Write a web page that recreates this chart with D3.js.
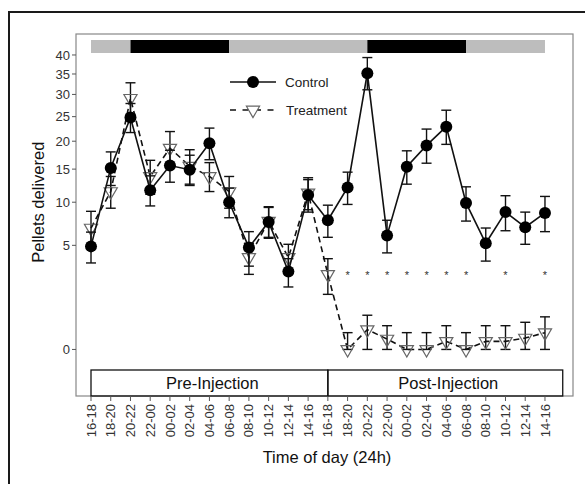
<!DOCTYPE html>
<html>
<head>
<meta charset="utf-8">
<script src="https://cdn.jsdelivr.net/npm/d3@7"></script>
<style>
  body { margin: 0; background: #fff; }
  text { font-family: 'Liberation Sans', Arial, sans-serif; }
</style>
</head>
<body>
<div id="chart"></div>
<script>
const times = ['16-18', '18-20', '20-22', '22-00', '00-02', '02-04', '04-06', '06-08', '08-10', '10-12', '12-14', '14-16',
  '16-18', '18-20', '20-22', '22-00', '00-02', '02-04', '04-06', '06-08', '08-10', '10-12', '12-14', '14-16']

const controlMean = [4.9, 15.2, 24.8, 11.7, 15.6, 14.9, 19.6, 10.0, 4.8, 7.5, 2.8, 11.0,
  7.7, 12.1, 35.2, 6.0, 15.4, 19.2, 22.9, 9.9, 5.2, 8.7, 6.9, 8.6]
const controlSem = [1.45, 2.8, 3.1, 2.2, 2.7, 2.5, 3.0, 2.0, 1.6, 1.8, 1.0, 2.3,
  1.9, 2.4, 4.1, 1.7, 2.8, 3.2, 3.5, 2.3, 1.6, 2.2, 1.8, 2.2]

const treatMean = [6.8, 11.5, 29.1, 13.8, 18.7, 15.5, 13.8, 11.5, 3.9, 7.6, 3.9, 11.3,
  2.6, 0, 0.18, 0.05, 0, 0, 0.03, 0, 0.03, 0.03, 0.06, 0.13]
const treatSem = [2.0, 2.3, 3.7, 2.7, 3.2, 2.9, 2.3, 2.3, 1.3, 1.8, 1.2, 2.3,
  1.2, 0.13, 0.36, 0.21, 0.13, 0.13, 0.23, 0.13, 0.23, 0.23, 0.28, 0.36]

// significant differences (index of time bin)
const starIdx = [13, 14, 15, 16, 17, 18, 19, 21, 23]

// light / dark phases, in time-bin index units
const phases = [
  { from: 0, to: 2, dark: false },
  { from: 2, to: 7, dark: true },
  { from: 7, to: 14, dark: false },
  { from: 14, to: 19, dark: true },
  { from: 19, to: 23, dark: false }
]
const periods = [
  { from: 0, to: 12, label: 'Pre-Injection' },
  { from: 12, to: 23.9, label: 'Post-Injection' }
]

const yTicks = [0, 5, 10, 15, 20, 25, 30, 35, 40]

const W = 585
const H = 484
const panel = { left: 76, right: 573, top: 34, bottom: 396 }

const svg = d3
  .select('#chart')
  .append('svg')
  .attr('width', W)
  .attr('height', H)

// outer figure frame
svg
  .append('rect')
  .attr('x', 9)
  .attr('y', 12)
  .attr('width', 600)
  .attr('height', 500)
  .attr('fill', 'none')
  .attr('stroke', '#1a1a1a')
  .attr('stroke-width', 2)

const x = d3.scaleLinear().domain([-0.76, 24.42]).range([panel.left, panel.right])
const y = d3.scaleSqrt().domain([-1, 45.9]).range([panel.bottom, panel.top])

// panel border
svg
  .append('rect')
  .attr('x', panel.left)
  .attr('y', panel.top)
  .attr('width', panel.right - panel.left)
  .attr('height', panel.bottom - panel.top)
  .attr('fill', 'none')
  .attr('stroke', '#888')
  .attr('stroke-width', 1.2)

// light/dark bar
svg
  .selectAll('.phase')
  .data(phases)
  .enter()
  .append('rect')
  .attr('class', 'phase')
  .attr('x', d => x(d.from))
  .attr('width', d => x(d.to) - x(d.from))
  .attr('y', 40)
  .attr('height', 13)
  .attr('fill', d => (d.dark ? '#000' : '#bdbdbd'))

// pre / post boxes
const pg = svg.selectAll('.period').data(periods).enter().append('g')
pg.append('rect')
  .attr('x', d => x(d.from))
  .attr('width', d => x(d.to) - x(d.from))
  .attr('y', 370)
  .attr('height', 26)
  .attr('fill', 'none')
  .attr('stroke', '#111')
  .attr('stroke-width', 1.3)
pg.append('text')
  .attr('x', d => (x(d.from) + x(d.to)) / 2 + 3)
  .attr('y', 389)
  .attr('text-anchor', 'middle')
  .style('font-size', '16.5px')
  .attr('fill', '#111')
  .text(d => d.label)

// y axis
const yAxis = svg.append('g')
yAxis
  .selectAll('line')
  .data(yTicks)
  .enter()
  .append('line')
  .attr('x1', panel.left - 4)
  .attr('x2', panel.left)
  .attr('y1', d => y(d))
  .attr('y2', d => y(d))
  .attr('stroke', '#555')
yAxis
  .selectAll('text')
  .data(yTicks)
  .enter()
  .append('text')
  .attr('x', panel.left - 6)
  .attr('y', d => y(d))
  .attr('dy', '0.35em')
  .attr('text-anchor', 'end')
  .style('font-size', '13px')
  .attr('fill', '#333')
  .text(d => d)

svg
  .append('text')
  .attr('transform', 'translate(44,' + (y(0) + y(40)) / 2 + ') rotate(-90)')
  .attr('text-anchor', 'middle')
  .style('font-size', '16.5px')
  .attr('fill', '#111')
  .text('Pellets delivered')

// x axis
const xAxis = svg.append('g')
xAxis
  .selectAll('line')
  .data(times)
  .enter()
  .append('line')
  .attr('x1', (d, i) => x(i))
  .attr('x2', (d, i) => x(i))
  .attr('y1', panel.bottom)
  .attr('y2', panel.bottom + 5)
  .attr('stroke', '#555')
xAxis
  .selectAll('text')
  .data(times)
  .enter()
  .append('text')
  .attr('transform', (d, i) => 'translate(' + x(i) + ',' + (panel.bottom + 8) + ') rotate(-90)')
  .attr('text-anchor', 'end')
  .attr('dy', '0.35em')
  .style('font-size', '13px')
  .attr('fill', '#333')
  .text(d => d)

svg
  .append('text')
  .attr('x', 327)
  .attr('y', 463)
  .attr('text-anchor', 'middle')
  .style('font-size', '16.5px')
  .attr('fill', '#111')
  .text('Time of day (24h)')

// series helpers
function errorBars(means, sems, cls) {
  const g = svg.append('g').attr('class', cls)
  const rows = means.map((m, i) => ({
    i: i,
    lo: Math.max(0, m - sems[i]),
    hi: m + sems[i]
  }))
  g.selectAll('.v')
    .data(rows)
    .enter()
    .append('line')
    .attr('x1', d => x(d.i))
    .attr('x2', d => x(d.i))
    .attr('y1', d => y(d.lo))
    .attr('y2', d => y(d.hi))
    .attr('stroke', '#111')
    .attr('stroke-width', 1.4)
  ;['lo', 'hi'].forEach(k => {
    g.selectAll('.' + k)
      .data(rows)
      .enter()
      .append('line')
      .attr('x1', d => x(d.i) - 5)
      .attr('x2', d => x(d.i) + 5)
      .attr('y1', d => y(d[k]))
      .attr('y2', d => y(d[k]))
      .attr('stroke', '#111')
      .attr('stroke-width', 1.4)
  })
}

const line = d3
  .line()
  .x((d, i) => x(i))
  .y(d => y(d))

const triangle = d3.symbol(d3.symbolTriangle, 75)

// treatment
errorBars(treatMean, treatSem, 'treat-err')
svg
  .append('path')
  .datum(treatMean)
  .attr('d', line)
  .attr('fill', 'none')
  .attr('stroke', '#111')
  .attr('stroke-width', 1.6)
  .attr('stroke-dasharray', '6,4')
svg
  .selectAll('.tri')
  .data(treatMean)
  .enter()
  .append('path')
  .attr('class', 'tri')
  .attr('d', triangle)
  .attr('transform', (d, i) => 'translate(' + x(i) + ',' + y(d) + ') rotate(180)')
  .attr('fill', 'none')
  .attr('stroke', '#666')
  .attr('stroke-width', 1.2)

// control
errorBars(controlMean, controlSem, 'ctrl-err')
svg
  .append('path')
  .datum(controlMean)
  .attr('d', line)
  .attr('fill', 'none')
  .attr('stroke', '#111')
  .attr('stroke-width', 1.6)
svg
  .selectAll('.dot')
  .data(controlMean)
  .enter()
  .append('circle')
  .attr('class', 'dot')
  .attr('cx', (d, i) => x(i))
  .attr('cy', d => y(d))
  .attr('r', 6)
  .attr('fill', '#000')

// stars
svg
  .selectAll('.star')
  .data(starIdx)
  .enter()
  .append('text')
  .attr('class', 'star')
  .attr('x', d => x(d))
  .attr('y', y(2.72) + 6)
  .attr('text-anchor', 'middle')
  .style('font-size', '11px')
  .attr('fill', '#333')
  .text('*')

// legend
const lg = svg.append('g').attr('transform', 'translate(230,82)')
lg.append('line').attr('x1', 0).attr('x2', 46).attr('stroke', '#111').attr('stroke-width', 1.6)
lg.append('circle').attr('cx', 23).attr('r', 6).attr('fill', '#000')
lg.append('text')
  .attr('x', 55)
  .attr('dy', '0.35em')
  .style('font-size', '13.5px')
  .attr('fill', '#222')
  .text('Control')
lg.append('line')
  .attr('x1', 0)
  .attr('x2', 46)
  .attr('y1', 28)
  .attr('y2', 28)
  .attr('stroke', '#111')
  .attr('stroke-width', 1.6)
  .attr('stroke-dasharray', '6,6.5')
lg.append('path')
  .attr('d', triangle)
  .attr('transform', 'translate(23,28) rotate(180)')
  .attr('fill', '#fff')
  .attr('stroke', '#666')
  .attr('stroke-width', 1.2)
lg.append('text')
  .attr('x', 56)
  .attr('y', 28)
  .attr('dy', '0.35em')
  .style('font-size', '13.5px')
  .attr('fill', '#222')
  .text('Treatment')
</script>
</body>
</html>
